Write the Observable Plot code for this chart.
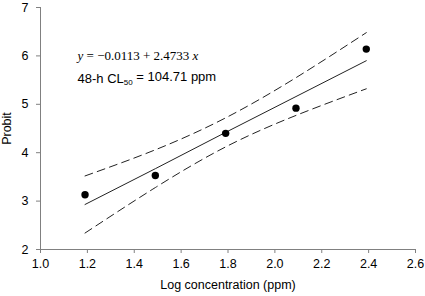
<!DOCTYPE html>
<html>
<head>
<meta charset="utf-8">
<script src="https://cdn.jsdelivr.net/npm/d3@7"></script>
<script src="https://cdn.jsdelivr.net/npm/@observablehq/plot@0.6"></script>
<style>
  html, body { margin: 0; padding: 0; background: #fff; }
</style>
</head>
<body>
<div id="chart"></div>
<script>
// Observed data
const logConc = [1.19, 1.49, 1.79, 2.09, 2.39];
const probit  = [3.13, 3.53, 4.40, 4.92, 6.14];
// Regression line (fitted values at the same concentrations)
const fitted  = [2.93, 3.67, 4.42, 5.16, 5.90];
// 95% confidence band
const upperCI = [3.52, 4.06, 4.72, 5.55, 6.48];
const lowerCI = [2.34, 3.28, 4.12, 4.77, 5.32];
// Axis ticks
const xTicks = [1.0, 1.2, 1.4, 1.6, 1.8, 2.0, 2.2, 2.4, 2.6];
const yTicks = [2, 3, 4, 5, 6, 7];
// Annotations
const eqText = "y = \u22120.0113 + 2.4733 x";
const lcText = "48-h CL50 = 104.71 ppm";

const pts = logConc.map((x, i) => ({x, y: probit[i]}));
const fit = logConc.map((x, i) => ({x, y: fitted[i]}));
const up  = logConc.map((x, i) => ({x, y: upperCI[i]}));
const lo  = logConc.map((x, i) => ({x, y: lowerCI[i]}));

const chart = Plot.plot({
  width: 425,
  height: 296,
  marginLeft: 40,
  marginRight: 10,
  marginTop: 7,
  marginBottom: 47,
  style: {fontFamily: "'Liberation Sans', Arial, sans-serif", fontSize: "12.5px", color: "#000", background: "#fff"},
  x: {domain: [1.0, 2.6], ticks: xTicks, tickFormat: d3.format(".1f"), tickSize: 4, tickPadding: 6,
      label: "Log concentration (ppm)", labelAnchor: "center", labelOffset: 39, labelArrow: "none"},
  y: {domain: [2, 7], ticks: yTicks, tickFormat: d3.format("d"), tickSize: 4, tickPadding: 8,
      label: "Probit", labelAnchor: "center", labelOffset: 38, labelArrow: "none"},
  marks: [
    Plot.ruleY([2], {stroke: "#808080"}),
    Plot.ruleX([1.0], {stroke: "#808080"}),
    Plot.line(up, {x: "x", y: "y", curve: "natural", stroke: "#222", strokeWidth: 1, strokeDasharray: "8,5"}),
    Plot.line(lo, {x: "x", y: "y", curve: "natural", stroke: "#222", strokeWidth: 1, strokeDasharray: "8,5"}),
    Plot.line(fit, {x: "x", y: "y", stroke: "#222", strokeWidth: 1}),
    Plot.dot(pts, {x: "x", y: "y", r: 3.7, fill: "#000", stroke: "none"}),
    Plot.text([eqText], {x: 1.158, y: 6.0, text: d => d, textAnchor: "start",
      fontFamily: "'Liberation Serif', 'Times New Roman', serif", fontSize: 13}),
    Plot.text([lcText], {x: 1.158, y: 5.53, text: d => d, textAnchor: "start", fontSize: 13})
  ]
});

// Rich text for the annotations
const svg = d3.select(chart);
svg.selectAll("text").filter(function() { return this.textContent === eqText; })
  .each(function() {
    const t = d3.select(this);
    t.text(null);
    t.append("tspan").attr("font-style", "italic").text("y");
    t.append("tspan").text(" = \u22120.0113 + 2.4733 ");
    t.append("tspan").attr("font-style", "italic").text("x");
  });
svg.selectAll("text").filter(function() { return this.textContent === lcText; })
  .each(function() {
    const t = d3.select(this);
    t.text(null);
    t.append("tspan").text("48-h CL");
    t.append("tspan").attr("font-size", 8).attr("dy", "0.3em").text("50");
    t.append("tspan").attr("dy", "-0.3em").text(" = 104.71 ppm");
  });
// strip any automatic label arrows
svg.selectAll("text, tspan").each(function() {
  if (this.childElementCount === 0) {
    const s = this.textContent;
    const c = s.replace(/\s*[\u2191\u2192\u2193\u2190]\s*/g, "");
    if (c !== s) this.textContent = c;
  }
});
svg.selectAll('[aria-label="x-axis tick"] path, [aria-label="y-axis tick"] path, [aria-label="x-axis tick"], [aria-label="y-axis tick"]')
  .attr("stroke", "#808080");

document.getElementById("chart").appendChild(chart);
</script>
</body>
</html>
